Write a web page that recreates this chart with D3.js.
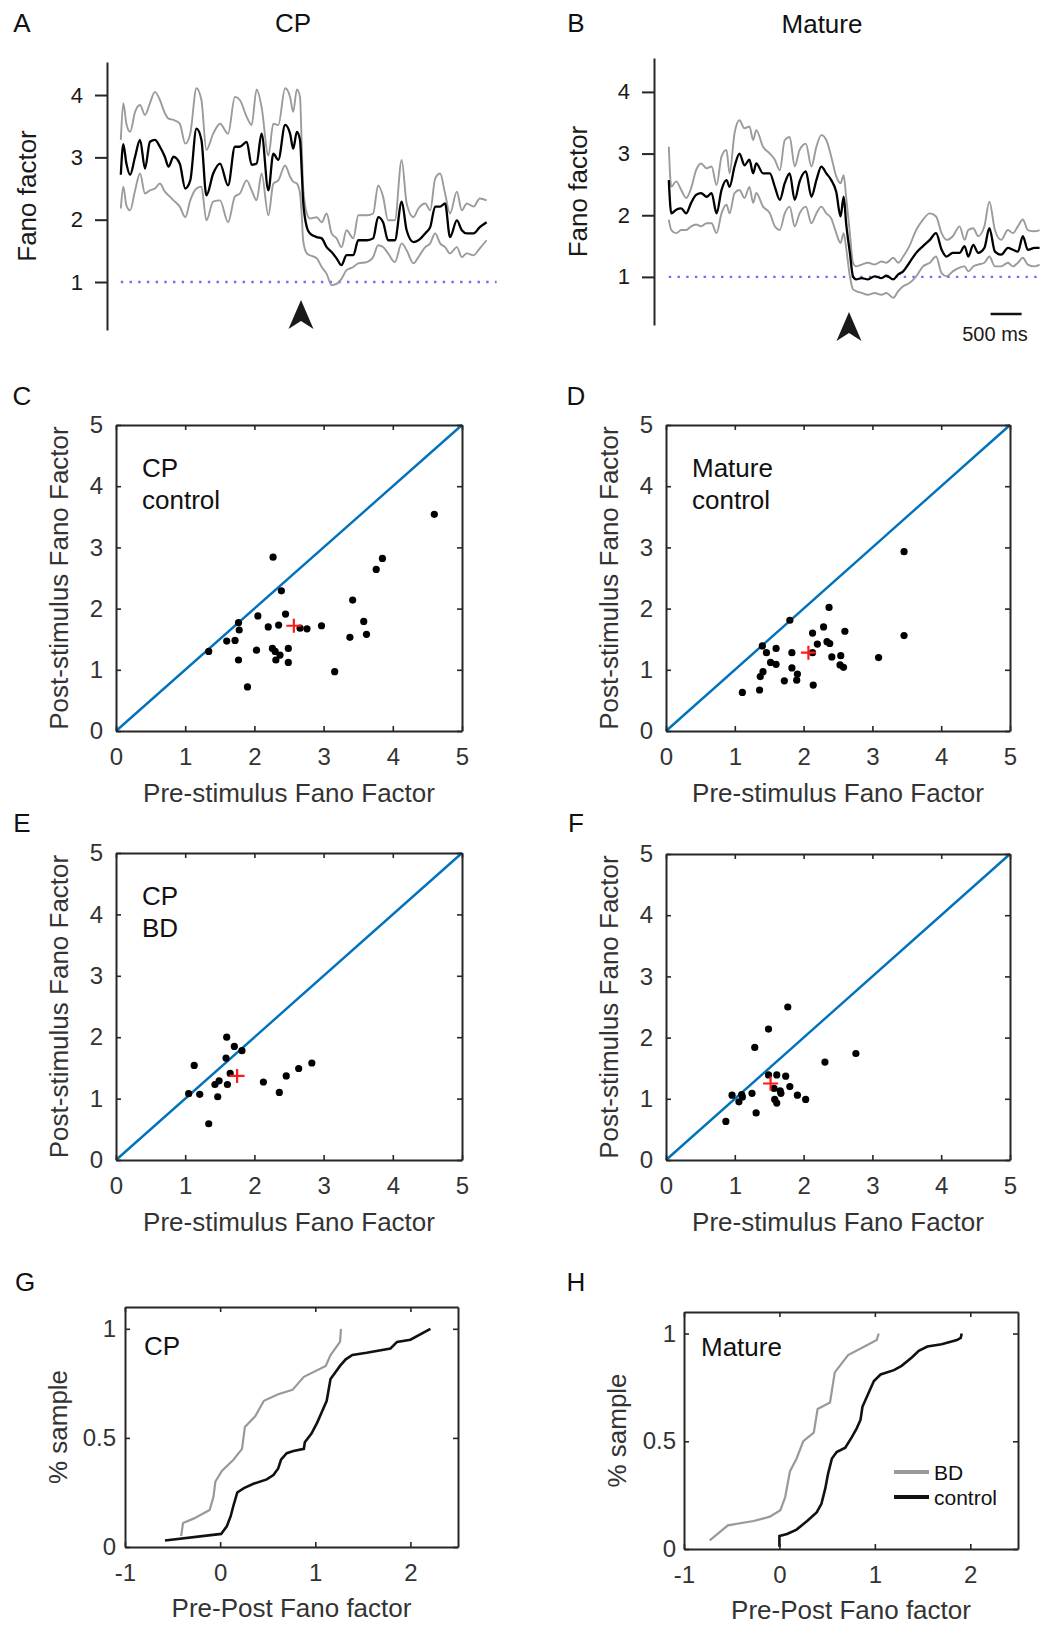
<!DOCTYPE html>
<html>
<head>
<meta charset="utf-8">
<title>Fano factor figure</title>
<style>
body { margin: 0; background: #fff; }
svg { display: block; }
text { font-family: "Liberation Sans", Arial, sans-serif; }
</style>
<script src="https://cdn.jsdelivr.net/npm/d3@7"></script>
</head>
<body>
<svg width="1042" height="1627"></svg>
<script>
// ---------- data ----------
const fanoTicks = [1, 2, 3, 4];
const scatterTicks = [0, 1, 2, 3, 4, 5];
const cdfXTicks = [-1, 0, 1, 2];
const cdfYTicks = [0, 0.5, 1];

// A: CP, Fano factor time course (ms relative to stimulus)
const timeCP = [-2890,-2850,-2800,-2740,-2660,-2580,-2500,-2420,-2340,-2260,-2180,-2120,-2040,-1940,-1850,
  -1770,-1670,-1590,-1510,-1400,-1290,-1160,-1050,-970,-860,-780,-700,-620,-510,-430,
  -350,-240,-160,-110,-50,0,30,50,110,160,270,350,430,510,590,
  670,750,860,940,1080,1180,1260,1340,1420,1530,1640,1720,1830,1910,2020,
  2100,2180,2260,2340,2420,2530,2610,2690,2800,2900,3010];
const meanCP = [2.72,3.21,2.90,2.72,3.01,3.28,2.82,3.25,3.28,3.17,3.01,2.85,3.01,2.90,2.50,
  2.63,3.46,3.28,2.39,2.74,2.90,2.55,3.17,3.17,3.25,2.88,2.90,3.38,2.47,3.06,
  2.96,3.52,3.38,3.14,3.41,3.28,2.74,2.31,1.88,1.78,1.72,1.70,1.56,1.48,1.38,
  1.27,1.43,1.43,1.67,1.67,1.70,2.04,1.96,1.67,1.67,2.29,1.83,1.64,1.67,1.78,
  1.88,2.21,2.21,2.26,1.72,1.99,1.83,1.78,1.78,1.88,1.96];
const upperCP = [3.28,3.87,3.54,3.41,3.73,3.84,3.68,3.87,4.05,3.92,3.71,3.62,3.60,3.54,3.22,
  3.38,4.11,3.92,3.12,3.38,3.54,3.38,3.97,3.92,3.65,3.52,4.09,3.81,3.03,3.54,
  3.52,4.11,3.97,3.73,4.09,3.97,3.12,2.53,2.10,2.02,2.04,1.96,2.10,1.78,1.70,
  1.56,1.83,1.70,2.07,2.07,2.10,2.55,2.37,1.99,1.99,2.96,2.26,2.04,2.18,2.26,
  2.15,2.66,2.74,2.42,2.10,2.45,2.15,2.26,2.21,2.34,2.31];
const lowerCP = [2.18,2.53,2.23,2.15,2.47,2.74,2.42,2.47,2.50,2.58,2.45,2.39,2.31,2.21,2.04,
  2.31,2.50,2.53,1.99,2.29,2.31,1.96,2.37,2.42,2.63,2.47,2.31,2.74,2.07,2.58,
  2.63,2.87,2.69,2.61,2.58,2.42,2.04,1.67,1.46,1.43,1.38,1.24,1.13,0.95,0.97,
  1.05,1.19,1.24,1.30,1.32,1.40,1.59,1.56,1.46,1.32,1.62,1.51,1.30,1.40,1.56,
  1.62,1.78,1.62,1.56,1.46,1.56,1.40,1.46,1.43,1.54,1.67];

// B: Mature
const timeMature = [-2890,-2850,-2770,-2690,-2610,-2530,-2450,-2370,-2280,-2200,-2120,-2040,-1960,-1910,-1830,
  -1750,-1670,-1590,-1530,-1480,-1370,-1260,-1180,-1100,-1020,-940,-860,-780,-680,-590,
  -510,-430,-350,-270,-190,-120,-70,-30,30,80,130,220,320,430,540,
  620,730,810,890,990,1100,1210,1320,1420,1510,1590,1690,1800,1880,1940,
  2020,2100,2200,2280,2370,2470,2580,2660,2740,2820,2900,3010,3090];
const meanMature = [2.57,2.03,2.09,2.11,2.03,2.20,2.33,2.36,2.30,2.36,2.03,2.41,2.57,2.46,2.79,
  3.00,2.81,2.90,2.68,2.84,2.68,2.68,2.46,2.25,2.52,2.68,2.25,2.55,2.71,2.30,
  2.57,2.79,2.68,2.57,2.38,1.98,2.30,1.87,1.39,1.01,0.96,0.98,0.96,1.01,0.98,
  1.02,0.96,1.04,1.09,1.23,1.39,1.50,1.60,1.71,1.44,1.33,1.39,1.39,1.50,1.33,
  1.52,1.39,1.47,1.79,1.41,1.36,1.47,1.44,1.41,1.66,1.44,1.47,1.47];
const upperMature = [3.11,2.46,2.55,2.41,2.28,2.44,2.73,2.84,2.76,2.79,2.49,2.95,3.06,2.68,3.33,
  3.54,3.41,3.44,3.22,3.38,3.11,3.00,2.90,2.73,3.22,3.27,2.79,3.06,3.16,2.79,
  3.11,3.30,3.22,2.95,2.63,2.52,2.65,2.30,1.71,1.23,1.17,1.20,1.23,1.20,1.25,
  1.23,1.31,1.23,1.33,1.50,1.76,1.93,2.03,1.98,1.71,1.60,1.66,1.82,1.60,1.76,
  1.79,1.66,1.82,2.22,1.76,1.60,1.76,1.71,1.82,1.93,1.76,1.74,1.76];
const lowerMature = [1.93,1.76,1.71,1.76,1.76,1.82,1.85,1.82,1.87,1.87,1.71,2.03,2.17,2.03,2.36,
  2.41,2.28,2.46,2.20,2.36,2.14,2.03,1.82,1.76,2.03,2.14,1.82,2.03,2.14,1.87,
  2.03,2.14,2.03,1.95,1.71,1.55,1.71,1.47,1.01,0.80,0.77,0.74,0.71,0.74,0.71,
  0.74,0.66,0.77,0.85,0.90,1.01,1.17,1.23,1.33,1.06,1.01,1.09,1.15,1.17,1.09,
  1.17,1.20,1.23,1.33,1.17,1.17,1.23,1.17,1.23,1.31,1.20,1.17,1.20];

// C-F: pre vs post stimulus Fano factor per cell
const cpControlPre  = [4.60,3.85,3.76,2.27,2.39,3.42,2.05,2.45,1.77,1.78,2.20,2.35,2.66,2.76,2.97,3.58,3.62,3.38,1.60,1.72,1.34,2.03,2.26,2.30,2.49,2.37,1.77,2.31,2.49,3.16,1.90];
const cpControlPost = [3.54,2.82,2.64,2.84,2.29,2.14,1.88,1.91,1.77,1.65,1.70,1.73,1.68,1.67,1.72,1.79,1.58,1.53,1.47,1.48,1.30,1.32,1.35,1.30,1.35,1.24,1.16,1.16,1.12,0.97,0.72];
const cpControlMean = [2.57, 1.72];

const matureControlPre  = [3.46,3.46,2.37,1.80,2.29,2.60,2.13,2.34,2.38,2.20,1.40,1.60,1.46,1.83,2.13,2.54,2.41,3.09,1.52,1.60,2.53,2.58,1.83,1.91,1.41,1.37,1.90,1.72,2.14,1.36,1.11];
const matureControlPost = [2.93,1.56,2.02,1.81,1.70,1.63,1.60,1.46,1.43,1.42,1.39,1.35,1.28,1.28,1.28,1.23,1.21,1.20,1.12,1.09,1.08,1.04,1.03,0.93,0.97,0.89,0.83,0.82,0.75,0.67,0.63];
const matureControlMean = [2.07, 1.28];

const cpBDPre  = [1.60,1.71,1.82,1.59,1.13,2.83,2.64,2.46,1.65,2.13,1.49,1.43,1.61,1.05,1.21,1.47,2.36,1.34];
const cpBDPost = [2.00,1.85,1.78,1.66,1.54,1.58,1.49,1.37,1.41,1.27,1.29,1.23,1.23,1.08,1.07,1.03,1.10,0.59];
const cpBDMean = [1.75, 1.37];

const matureBDPre  = [1.77,1.49,1.29,2.76,2.31,1.49,1.61,1.74,1.80,1.57,1.66,1.67,1.25,0.96,1.10,1.11,1.91,2.03,1.58,1.61,1.06,1.31,0.87];
const matureBDPost = [2.50,2.14,1.84,1.74,1.60,1.39,1.39,1.37,1.20,1.17,1.13,1.09,1.09,1.06,1.07,1.03,1.06,0.99,0.99,0.93,0.95,0.77,0.63];
const matureBDMean = [1.52, 1.25];

// G-H: cumulative distributions of pre-post Fano factor
const cdfCPControlX = [-0.58,0.01,0.07,0.11,0.14,0.18,0.25,0.35,0.49,0.56,0.61,0.64,0.70,0.77,0.88,0.89,0.96,1.02,1.07,1.12,1.16,1.21,1.26,1.32,1.39,1.54,1.79,1.86,2.00,2.21];
const cdfCPControlY = [0.03,0.06,0.095,0.14,0.19,0.25,0.27,0.29,0.31,0.33,0.36,0.40,0.43,0.44,0.45,0.48,0.52,0.57,0.62,0.67,0.77,0.80,0.83,0.86,0.88,0.89,0.91,0.94,0.95,1.00];
const cdfCPBDX = [-0.41,-0.39,-0.28,-0.11,-0.07,-0.05,0.02,0.14,0.23,0.26,0.37,0.46,0.61,0.76,0.88,1.11,1.16,1.26,1.27];
const cdfCPBDY = [0.05,0.11,0.13,0.17,0.23,0.30,0.35,0.40,0.45,0.55,0.60,0.67,0.70,0.72,0.78,0.83,0.88,0.94,1.00];
const cdfMatureControlX = [0.00,0.00,0.08,0.18,0.29,0.39,0.44,0.48,0.51,0.55,0.60,0.69,0.76,0.81,0.85,0.87,0.92,0.99,1.06,1.20,1.28,1.39,1.46,1.55,1.70,1.86,1.90,1.91];
const cdfMatureControlY = [0.01,0.06,0.07,0.09,0.13,0.17,0.21,0.28,0.35,0.42,0.45,0.47,0.52,0.56,0.60,0.66,0.71,0.78,0.81,0.83,0.85,0.89,0.92,0.94,0.95,0.97,0.98,1.00];
const cdfMatureBDX = [-0.73,-0.54,-0.27,-0.10,0.01,0.06,0.11,0.18,0.25,0.36,0.40,0.53,0.58,0.72,1.02,1.04];
const cdfMatureBDY = [0.04,0.11,0.13,0.15,0.18,0.24,0.36,0.42,0.50,0.54,0.65,0.68,0.82,0.90,0.97,1.00];

// ---------- drawing ----------
const svg = d3.select('svg');
const axisColor = '#262626';
const labelColor = '#333';
const fontSize = 26;

function styleAxis(g, size, color) {
    g.select('.domain').attr('stroke', axisColor).attr('stroke-width', 2);
    g.selectAll('.tick line').attr('stroke', axisColor).attr('stroke-width', 1.6);
    g.selectAll('.tick text')
        .attr('font-family', '"Liberation Sans", Arial, sans-serif')
        .attr('font-size', size)
        .attr('fill', color);
}

function addText(x, y, str, opts) {
    opts = opts || {};
    const t = svg.append('text')
        .attr('x', x).attr('y', y)
        .attr('font-size', opts.size || fontSize)
        .attr('fill', opts.color || '#1a1a1a')
        .attr('text-anchor', opts.anchor || 'middle')
        .attr('dominant-baseline', 'central')
        .text(str);
    if (opts.rotate) t.attr('transform', `rotate(-90,${x},${y})`);
    return t;
}

// --- A/B time course panels ---
const tracePanel = p => {
    const x = d3.scaleLinear().domain(p.xDomain).range(p.xRange);
    const y = d3.scaleLinear().domain(p.yDomain).range(p.yRange);
    const g = svg.append('g');

    const yAxisG = g.append('g')
        .attr('transform', `translate(${p.axisX},0)`)
        .call(d3.axisLeft(y).tickValues(fanoTicks).tickFormat(d3.format('d'))
            .tickSize(12).tickSizeOuter(0).tickPadding(12));
    styleAxis(yAxisG, 22, '#1a1a1a');
    yAxisG.selectAll('.tick line').attr('stroke-width', 2);

    // reference line at Fano factor = 1
    g.append('line')
        .attr('x1', x(p.time[0])).attr('x2', x(p.time[p.time.length - 1]) + 10)
        .attr('y1', y(1)).attr('y2', y(1))
        .attr('stroke', '#6f6cf5').attr('stroke-width', 2.4)
        .attr('stroke-dasharray', '2.4,6.3');

    const line = d3.line().curve(d3.curveMonotoneX)
        .x((d, i) => x(p.time[i])).y(d => y(d));
    [p.upper, p.lower].forEach(arr => {
        g.append('path').attr('d', line(arr))
            .attr('fill', 'none').attr('stroke', '#9b9b9b').attr('stroke-width', 1.9);
    });
    g.append('path').attr('d', line(p.mean))
        .attr('fill', 'none').attr('stroke', '#000').attr('stroke-width', 2.3);

    // stimulus onset arrowhead
    const ax = x(0) + 1;
    g.append('path')
        .attr('d', `M${ax},${p.arrowY} L${ax + 12.5},${p.arrowY + 29} L${ax},${p.arrowY + 21} L${ax - 12.5},${p.arrowY + 29} Z`)
        .attr('fill', '#1a1a1a');

    addText(p.titleX, p.titleY, p.title, { color: '#111' });
    addText(p.ylabX, (p.yRange[0] + p.yRange[1]) / 2, 'Fano factor', { rotate: true, color: '#1a1a1a' });
    return x;
};

tracePanel({
    time: timeCP, mean: meanCP, upper: upperCP, lower: lowerCP,
    xDomain: [-2900, 3000], xRange: [120.2, 486],
    yDomain: [0.23, 4.53], yRange: [330, 62],
    axisX: 107, arrowY: 300, title: 'CP', titleX: 293, titleY: 23, ylabX: 27
});

const xMature = tracePanel({
    time: timeMature, mean: meanMature, upper: upperMature, lower: lowerMature,
    xDomain: [-2900, 3100], xRange: [668.2, 1040.2],
    yDomain: [0.22, 4.55], yRange: [325, 58],
    axisX: 654, arrowY: 312, title: 'Mature', titleX: 822, titleY: 24, ylabX: 578
});

// 500 ms scale bar
svg.append('line')
    .attr('x1', xMature(2300)).attr('x2', xMature(2800))
    .attr('y1', 314).attr('y2', 314)
    .attr('stroke', '#111').attr('stroke-width', 2.5);
addText(995, 334, '500 ms', { size: 20, color: '#1a1a1a' });

// --- C-F scatter panels ---
const boxAxes = (g, x, y, b, xTicks, yTicks, xFmt, yFmt, tickSize, padY) => {
    const bottom = g.append('g').attr('transform', `translate(0,${b.bottom})`)
        .call(d3.axisBottom(x).tickValues(xTicks).tickSize(-5).tickSizeOuter(0).tickPadding(17).tickFormat(xFmt));
    const top = g.append('g').attr('transform', `translate(0,${b.top})`)
        .call(d3.axisTop(x).tickValues(xTicks).tickSize(-5).tickSizeOuter(0).tickFormat(''));
    const left = g.append('g').attr('transform', `translate(${b.left},0)`)
        .call(d3.axisLeft(y).tickValues(yTicks).tickSize(-5).tickSizeOuter(0).tickPadding(padY).tickFormat(yFmt));
    const right = g.append('g').attr('transform', `translate(${b.right},0)`)
        .call(d3.axisRight(y).tickValues(yTicks).tickSize(-5).tickSizeOuter(0).tickFormat(''));
    [bottom, top, left, right].forEach(a => styleAxis(a, tickSize, labelColor));
};

const scatterPanel = p => {
    const b = p.box;
    const x = d3.scaleLinear().domain([0, 5]).range([b.left, b.right]);
    const y = d3.scaleLinear().domain([0, 5]).range([b.bottom, b.top]);
    const g = svg.append('g');

    // identity line
    g.append('line')
        .attr('x1', x(0)).attr('y1', y(0)).attr('x2', x(5)).attr('y2', y(5))
        .attr('stroke', '#0072BD').attr('stroke-width', 2.4);

    g.selectAll('circle.cell').data(p.pre).join('circle')
        .attr('class', 'cell')
        .attr('cx', d => x(d))
        .attr('cy', (d, i) => y(p.post[i]))
        .attr('r', 3.6)
        .attr('fill', '#000');

    const mx = x(p.mean[0]), my = y(p.mean[1]);
    g.append('path')
        .attr('d', `M${mx - 7.5},${my} H${mx + 7.5} M${mx},${my - 7} V${my + 7}`)
        .attr('stroke', '#ff1a1a').attr('stroke-width', 2.2).attr('fill', 'none');

    boxAxes(g, x, y, b, scatterTicks, scatterTicks, d => d, d => d, 24, 13);

    p.note.forEach((s, i) => addText(b.left + 26, b.top + 43 + i * 32, s, { anchor: 'start', color: '#111' }));
    addText((b.left + b.right) / 2, b.bottom + 62, 'Pre-stimulus Fano Factor', { color: labelColor });
    addText(b.left - 57, (b.top + b.bottom) / 2, 'Post-stimulus Fano Factor', { rotate: true, color: labelColor });
};

scatterPanel({ box: { left: 116, right: 462, top: 425, bottom: 731 },
    pre: cpControlPre, post: cpControlPost, mean: cpControlMean, note: ['CP', 'control'] });
scatterPanel({ box: { left: 666, right: 1010, top: 425, bottom: 731 },
    pre: matureControlPre, post: matureControlPost, mean: matureControlMean, note: ['Mature', 'control'] });
scatterPanel({ box: { left: 116, right: 462, top: 853, bottom: 1160 },
    pre: cpBDPre, post: cpBDPost, mean: cpBDMean, note: ['CP', 'BD'] });
scatterPanel({ box: { left: 666, right: 1010, top: 854, bottom: 1160 },
    pre: matureBDPre, post: matureBDPost, mean: matureBDMean, note: [] });

// --- G-H cumulative distributions ---
const cdfPanel = p => {
    const b = p.box;
    const x = d3.scaleLinear().domain([-1, 2.5]).range([b.left, b.right]);
    const y = d3.scaleLinear().domain([0, 1.1]).range([b.bottom, b.top]);
    const g = svg.append('g');

    const line = xs => d3.line().x((d, i) => x(xs[i])).y(d => y(d));
    g.append('path').attr('d', line(p.bdX)(p.bdY))
        .attr('fill', 'none').attr('stroke', '#999').attr('stroke-width', 2.2);
    g.append('path').attr('d', line(p.ctlX)(p.ctlY))
        .attr('fill', 'none').attr('stroke', '#111').attr('stroke-width', 2.6);

    boxAxes(g, x, y, b, cdfXTicks, cdfYTicks, d => String(d), d => String(d), 24, p.padY);

    addText(b.left + p.noteDx, b.top + p.noteDy, p.note, { anchor: 'start', color: '#111' });
    addText((b.left + b.right) / 2, b.bottom + 61, 'Pre-Post Fano factor', { color: labelColor });
    addText(b.left - 67, (b.top + b.bottom) / 2, '% sample', { rotate: true, color: labelColor });
    return { x, y };
};

cdfPanel({ box: { left: 125, right: 458, top: 1307, bottom: 1547 },
    ctlX: cdfCPControlX, ctlY: cdfCPControlY, bdX: cdfCPBDX, bdY: cdfCPBDY,
    note: 'CP', noteDx: 19, noteDy: 39, padY: 9 });
cdfPanel({ box: { left: 684, right: 1018, top: 1312, bottom: 1549 },
    ctlX: cdfMatureControlX, ctlY: cdfMatureControlY, bdX: cdfMatureBDX, bdY: cdfMatureBDY,
    note: 'Mature', noteDx: 17, noteDy: 35, padY: 8 });

// legend in H
const legendItems = [
    { name: 'BD', color: '#999', y: 1472 },
    { name: 'control', color: '#111', y: 1497 }
];
legendItems.forEach(d => {
    svg.append('line').attr('x1', 894).attr('x2', 929).attr('y1', d.y).attr('y2', d.y)
        .attr('stroke', d.color).attr('stroke-width', 4);
    addText(934, d.y, d.name, { anchor: 'start', size: 21, color: '#111' });
});

// panel letters
[['A', 22, 23], ['B', 576, 23], ['C', 22, 396], ['D', 576, 396],
 ['E', 22, 823], ['F', 576, 823], ['G', 25, 1282], ['H', 576, 1282]]
    .forEach(d => addText(d[1], d[2], d[0], { color: '#111' }));
</script>
</body>
</html>
